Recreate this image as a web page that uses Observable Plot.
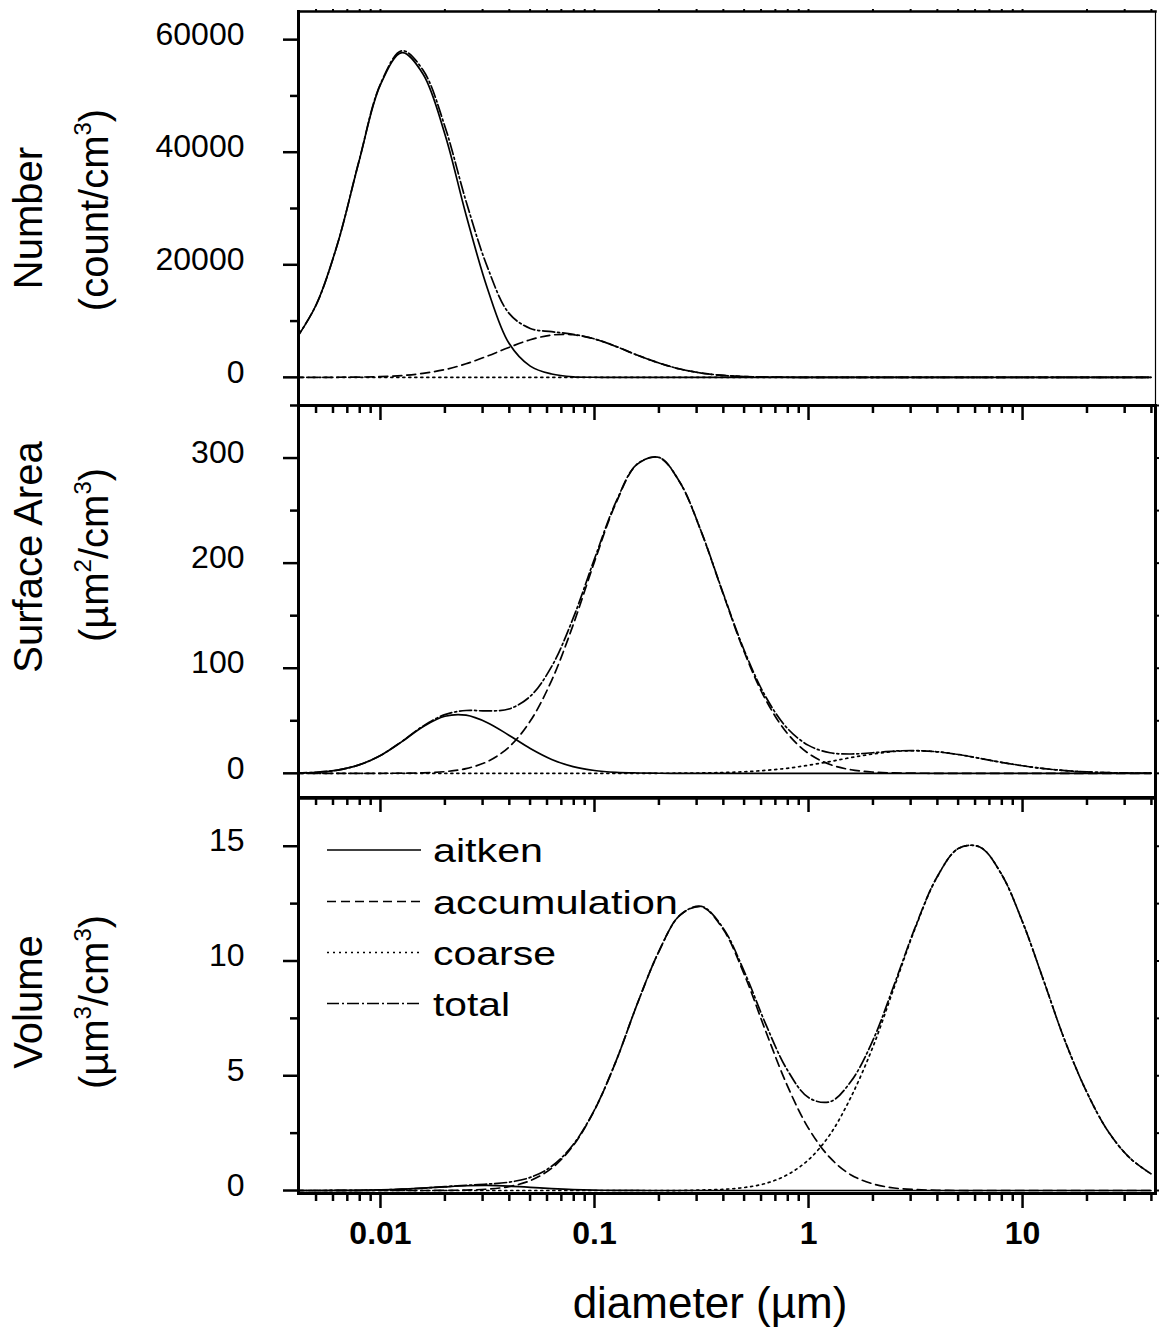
<!DOCTYPE html>
<html>
<head>
<meta charset="utf-8">
<script src="https://cdn.jsdelivr.net/npm/d3@7"></script>
<script src="https://cdn.jsdelivr.net/npm/@observablehq/plot@0.6"></script>
<style>
  body { margin: 0; background: #fff; }
  #wrap { position: relative; width: 1159px; height: 1331px; background: #fff;
          font-family: "Liberation Sans", Arial, Helvetica, sans-serif; color: #000; }
  #wrap svg { position: absolute; left: 0; }
</style>
</head>
<body>
<div id="wrap"></div>
<script>
// ---------------- data ----------------
const diameter = [0.00398, 0.00501, 0.00631, 0.00794, 0.01, 0.0126, 0.0158, 0.02, 0.0251, 0.0316,
  0.0398, 0.0501, 0.0631, 0.0794, 0.1, 0.126, 0.158, 0.2, 0.251, 0.316,
  0.398, 0.501, 0.631, 0.794, 1, 1.26, 1.58, 2, 2.51, 3.16,
  3.98, 5.01, 6.31, 7.94, 10, 12.6, 15.8, 20, 25.1, 31.6, 39.8];

const seriesNames = ["aitken", "accumulation", "coarse", "total"];

// Number (count/cm3)
const numberAitken = [6500, 12900, 23800, 38400, 52000, 57700, 53900, 43200, 28900, 15800,
  6100, 2000, 600, 90, 15, 0, 0, 0, 0, 0,
  0, 0, 0, 0, 0, 0, 0, 0, 0, 0,
  0, 0, 0, 0, 0, 0, 0, 0, 0, 0, 0];
const numberAccumulation = [0, 4, 15, 48, 131, 320, 701, 1374, 2410, 3784,
  5316, 6682, 7517, 7566, 6817, 5494, 3965, 2559, 1477, 764,
  353, 146, 54, 18, 5, 1, 0, 0, 0, 0,
  0, 0, 0, 0, 0, 0, 0, 0, 0, 0, 0];
const numberCoarse = [0, 0, 0, 0, 0, 0, 0, 0, 0, 0,
  0, 0, 0, 0, 0.05, 0.1, 0.2, 0.4, 0.7, 1.0,
  1.4, 1.8, 2.2, 2.35, 2.4, 2.2, 1.8, 1.4, 1.0, 0.7,
  0.4, 0.2, 0.1, 0.05, 0.02, 0, 0, 0, 0, 0, 0];
const numberTotal = [6500, 12904, 23815, 38448, 52131, 58020, 54601, 44574, 31310, 19584,
  11416, 8682, 8117, 7656, 6832, 5494, 3965, 2559, 1478, 765,
  354, 148, 56, 20, 7, 3, 2, 1, 1, 1,
  0, 0, 0, 0, 0, 0, 0, 0, 0, 0, 0];

// Surface area (um2/cm3)
const surfaceAitken = [0.27, 1.0, 3.1, 8.0, 17.0, 30.2, 44.4, 54.3, 55.3, 48.2,
  36.3, 23.6, 13.2, 6.4, 2.7, 0.95, 0.3, 0.08, 0, 0,
  0, 0, 0, 0, 0, 0, 0, 0, 0, 0,
  0, 0, 0, 0, 0, 0, 0, 0, 0, 0, 0];
const surfaceAccumulation = [0, 0, 0, 0, 0.04, 0.15, 0.5, 1.6, 4.5, 11.2,
  24.9, 49.7, 88.5, 141, 201.4, 257.2, 293.9, 300.5, 276.6, 229.3,
  171.4, 115.4, 70.0, 38.3, 18.9, 8.4, 3.4, 1.2, 0.4, 0.12,
  0.03, 0, 0, 0, 0, 0, 0, 0, 0, 0, 0];
const surfaceCoarse = [0, 0, 0, 0, 0, 0, 0, 0, 0, 0,
  0, 0, 0, 0, 0, 0, 0, 0.05, 0.13, 0.33,
  0.73, 1.5, 2.8, 4.8, 7.7, 11.2, 15.0, 18.4, 20.8, 21.5,
  20.5, 17.9, 14.3, 10.5, 7.2, 4.5, 2.6, 1.3, 0.65, 0.29, 0.11];
const surfaceTotal = [0.27, 1.0, 3.1, 8.0, 17.0, 30.4, 44.9, 55.9, 59.8, 59.4,
  61.2, 73.3, 101.7, 147.4, 204.1, 258.2, 294.2, 300.6, 276.7, 229.6,
  172.1, 116.9, 72.8, 43.1, 26.6, 19.6, 18.4, 19.6, 21.2, 21.6,
  20.5, 17.9, 14.3, 10.5, 7.2, 4.5, 2.6, 1.3, 0.65, 0.29, 0.11];

// Volume (um3/cm3)
const volumeAitken = [0, 0.001, 0.003, 0.01, 0.026, 0.057, 0.106, 0.162, 0.207, 0.22,
  0.193, 0.141, 0.086, 0.043, 0.018, 0.006, 0.002, 0, 0, 0,
  0, 0, 0, 0, 0, 0, 0, 0, 0, 0,
  0, 0, 0, 0, 0, 0, 0, 0, 0, 0, 0];
const volumeAccumulation = [0, 0, 0, 0, 0, 0, 0, 0.006, 0.02, 0.06,
  0.17, 0.43, 0.97, 1.95, 3.50, 5.63, 8.10, 10.42, 12.0, 12.36,
  11.4, 9.41, 6.94, 4.59, 2.71, 1.43, 0.68, 0.29, 0.11, 0.04,
  0.01, 0, 0, 0, 0, 0, 0, 0, 0, 0, 0];
const volumeCoarse = [0, 0, 0, 0, 0, 0, 0, 0, 0, 0,
  0, 0, 0, 0, 0, 0, 0, 0, 0, 0.02,
  0.05, 0.13, 0.31, 0.68, 1.34, 2.44, 4.08, 6.26, 8.84, 11.46,
  13.64, 14.9, 14.97, 13.81, 11.70, 9.10, 6.51, 4.27, 2.58, 1.43, 0.73];
const volumeTotal = [0, 0.001, 0.003, 0.01, 0.026, 0.057, 0.106, 0.168, 0.227, 0.28,
  0.363, 0.571, 1.056, 1.993, 3.518, 5.636, 8.102, 10.42, 12.0, 12.38,
  11.45, 9.54, 7.25, 5.27, 4.05, 3.87, 4.76, 6.55, 8.95, 11.50,
  13.65, 14.9, 14.97, 13.81, 11.70, 9.10, 6.51, 4.27, 2.58, 1.43, 0.73];

// tick values
const xMajorTicks = [0.01, 0.1, 1, 10];
const xMinorTicks = [0.005, 0.006, 0.007, 0.008, 0.009, 0.02, 0.03, 0.04, 0.05, 0.06, 0.07, 0.08, 0.09,
  0.2, 0.3, 0.4, 0.5, 0.6, 0.7, 0.8, 0.9, 2, 3, 4, 5, 6, 7, 8, 9, 20, 30, 40];
const numberTicks = [0, 20000, 40000, 60000];
const numberMinorTicks = [10000, 30000, 50000];
const surfaceTicks = [0, 100, 200, 300];
const surfaceMinorTicks = [50, 150, 250, 350];
const volumeTicks = [0, 5, 10, 15];
const volumeMinorTicks = [2.5, 7.5, 12.5];

// ---------------- drawing ----------------
const FONT = "Liberation Sans, Arial, Helvetica, sans-serif";
const dashes = { aitken: null, accumulation: "9,5", coarse: "2,4", total: "12,3,2,3" };
const wrap = document.getElementById("wrap");

function panel(cfg) {
  const marks = [];
  const arrays = cfg.series;
  seriesNames.forEach((name, k) => {
    const rows = diameter.map((d, i) => ({ d, v: arrays[k][i], s: name }));
    marks.push(Plot.line(rows, {
      x: "d", y: "v", stroke: "black", strokeWidth: 1.7,
      strokeDasharray: dashes[name] || undefined, curve: "catmull-rom", clip: true
    }));
  });
  // y ticks (major + minor) and labels (labels nudged up a little, as in the reference)
  marks.push(Plot.axisY(cfg.yMajor, { anchor: "left", tickSize: 15, strokeWidth: 2.5,
    tickFormat: () => "", label: null }));
  marks.push(Plot.axisY(cfg.yMajor, { anchor: "left", tickSize: 0, tickPadding: 54,
    fontSize: 32, dy: -5, tickFormat: d => String(d), label: null }));
  marks.push(Plot.axisY(cfg.yMinor, { anchor: "left", tickSize: 8, strokeWidth: 2.5,
    tickFormat: () => "", label: null }));
  // x ticks
  marks.push(Plot.axisX(xMajorTicks, { anchor: "bottom", tickSize: 15, tickPadding: 13, strokeWidth: 2.5,
    fontSize: 32, fontWeight: "bold", tickFormat: cfg.xLabels ? (d => String(d)) : (() => ""), label: null }));
  marks.push(Plot.axisX(xMinorTicks, { anchor: "bottom", tickSize: 8, strokeWidth: 2.5,
    tickFormat: () => "", label: null }));
  if (cfg.topTicks) {
    marks.push(Plot.axisX(xMajorTicks.concat(xMinorTicks), { anchor: "top", tickSize: 3, strokeWidth: 2,
      tickFormat: () => "", label: null }));
  }
  if (cfg.rightTicks) {
    marks.push(Plot.axisY(cfg.yMajor.concat(cfg.yMinor), { anchor: "right", tickSize: 3, strokeWidth: 2,
      tickFormat: () => "", label: null }));
  }
  marks.push(Plot.frame({ anchor: "left", strokeWidth: 3 }));
  marks.push(Plot.frame({ anchor: "bottom", strokeWidth: 3 }));
  marks.push(Plot.frame({ anchor: "top", strokeWidth: cfg.topWidth }));
  marks.push(Plot.frame({ anchor: "right", strokeWidth: cfg.rightWidth }));

  const svg = Plot.plot({
    width: 1159, height: cfg.height,
    marginLeft: 298, marginRight: 4, marginTop: cfg.mt, marginBottom: cfg.mb,
    x: { type: "log", domain: [0.00414, 41.8] },
    y: { domain: cfg.yDomain },
    style: { background: "none", overflow: "visible", fontFamily: FONT, fontSize: "32px", color: "black" },
    marks
  });
  svg.style.position = "absolute";
  svg.style.left = "0px";
  svg.style.top = cfg.top + "px";
  wrap.appendChild(svg);
}

panel({ top: 0, height: 430, mt: 11, mb: 25, yDomain: [-5000, 65000],
  yMajor: numberTicks, yMinor: numberMinorTicks,
  series: [numberAitken, numberAccumulation, numberCoarse, numberTotal],
  xLabels: false, topTicks: true, rightTicks: false, topWidth: 2.5, rightWidth: 1.2 });

panel({ top: 380, height: 440, mt: 25, mb: 23, yDomain: [-23, 350],
  yMajor: surfaceTicks, yMinor: surfaceMinorTicks,
  series: [surfaceAitken, surfaceAccumulation, surfaceCoarse, surfaceTotal],
  xLabels: false, topTicks: false, rightTicks: true, topWidth: 2.5, rightWidth: 3 });

panel({ top: 773, height: 558, mt: 25, mb: 138, yDomain: [-0.13, 17.08],
  yMajor: volumeTicks, yMinor: volumeMinorTicks,
  series: [volumeAitken, volumeAccumulation, volumeCoarse, volumeTotal],
  xLabels: true, topTicks: false, rightTicks: true, topWidth: 2.5, rightWidth: 3 });

// ---------------- titles and legend (text overlay) ----------------
const ov = d3.select(wrap).append("svg")
  .attr("width", 1159).attr("height", 1331)
  .style("position", "absolute").style("left", "0px").style("top", "0px")
  .style("overflow", "visible")
  .attr("font-family", FONT).attr("fill", "black");

function richText(t, parts, size) {
  let raised = false;
  parts.forEach(([txt, sup]) => {
    const sp = t.append("tspan").text(txt);
    if (sup && !raised) { sp.attr("font-size", size * 0.6).attr("dy", -size * 0.42); raised = true; }
    else if (!sup && raised) { sp.attr("dy", size * 0.42); raised = false; }
  });
}

function yTitle(x, y, size, parts) {
  const t = ov.append("text")
    .attr("transform", `translate(${x},${y}) rotate(-90)`)
    .attr("text-anchor", "middle").attr("font-size", size);
  richText(t, parts, size);
}

const titleSize = 40;
yTitle(42, 218, titleSize, [["Number", false]]);
yTitle(108, 210, titleSize, [["(count/cm", false], ["3", true], [")", false]]);
yTitle(42, 557, titleSize, [["Surface Area", false]]);
yTitle(108, 555, titleSize, [["(\u00b5m", false], ["2", true], ["/cm", false], ["3", true], [")", false]]);
yTitle(42, 1002, titleSize, [["Volume", false]]);
yTitle(108, 1002, titleSize, [["(\u00b5m", false], ["3", true], ["/cm", false], ["3", true], [")", false]]);

ov.append("text").attr("x", 710).attr("y", 1318).attr("text-anchor", "middle")
  .attr("font-size", 44).text("diameter (\u00b5m)");

// legend
const legendRows = [
  { name: "aitken", y: 850, w: 110 },
  { name: "accumulation", y: 901.5, w: 245 },
  { name: "coarse", y: 952.5, w: 123 },
  { name: "total", y: 1003.5, w: 77 }
];
legendRows.forEach(r => {
  ov.append("line").attr("x1", 327).attr("x2", 421).attr("y1", r.y).attr("y2", r.y)
    .attr("stroke", "black").attr("stroke-width", 1.7)
    .attr("stroke-dasharray", dashes[r.name] || null);
  ov.append("text").attr("x", 433).attr("y", r.y + 12).attr("font-size", 34)
    .attr("textLength", r.w).attr("lengthAdjust", "spacingAndGlyphs").text(r.name);
});
</script>
</body>
</html>
